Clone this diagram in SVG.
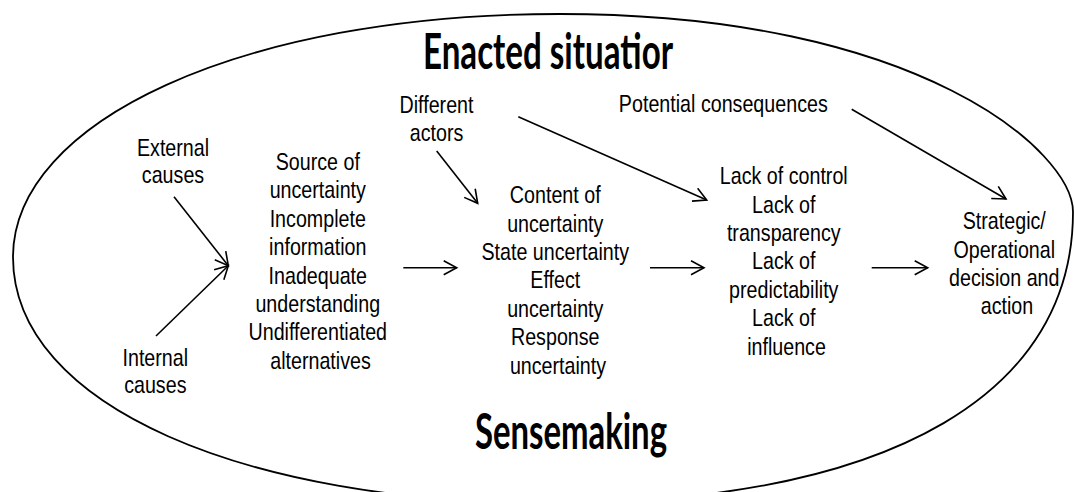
<svg xmlns="http://www.w3.org/2000/svg" width="1074" height="492" viewBox="0 0 1074 492">
  <style>
    .t { font-family: "Liberation Sans", Arial, sans-serif; font-size: 24px; fill: #000; text-anchor: middle; }
    .h { font-family: Lato, "Open Sans", sans-serif; font-weight: bold; font-size: 49px; fill: #000; text-anchor: middle; }
    .c { stroke: #000; stroke-width: 1.6; fill: none; marker-end: url(#arr); }
  </style>
  <defs>
    <marker id="arr" markerUnits="userSpaceOnUse" markerWidth="18" markerHeight="18" refX="15" refY="8" orient="auto">
      <path d="M2,1 L15,8 L2,15" fill="none" stroke="#000" stroke-width="1.6"/>
    </marker>
  </defs>
  <rect width="1074" height="492" fill="#fff"/>
  <g id="outline">
    <path d="M560,14 C920,14 1073,152 1073,212 C1073,387 903,503 548,503 C248,503 13,407 13,257 C13,122 240,14 560,14 Z" fill="none" stroke="#000" stroke-width="1.8"/>
  </g>
  <g id="title-enacted">
    <text class="h" x="548" y="69" textLength="250" lengthAdjust="spacingAndGlyphs">Enacted situatior</text>
  </g>
  <g id="title-sensemaking">
    <text class="h" x="571" y="449" textLength="192" lengthAdjust="spacingAndGlyphs">Sensemaking</text>
  </g>
  <g id="external-causes" transform="translate(173 0) scale(0.82 1)">
    <text class="t"><tspan x="0" y="155.7">External</tspan><tspan x="0" y="183.4">causes</tspan></text>
  </g>
  <g id="internal-causes" transform="translate(155.3 0) scale(0.82 1)">
    <text class="t"><tspan x="0" y="365.7">Internal</tspan><tspan x="0" y="392.7">causes</tspan></text>
  </g>
  <g id="different-actors" transform="translate(436.5 0) scale(0.82 1)">
    <text class="t"><tspan x="0" y="112.7">Different</tspan><tspan x="0" y="140.7">actors</tspan></text>
  </g>
  <g id="source" transform="translate(320.5 0) scale(0.82 1)">
    <text class="t">
      <tspan x="0" y="170">Source of</tspan>
      <tspan x="0" y="198.4">uncertainty</tspan>
      <tspan x="0" y="226.8">Incomplete</tspan>
      <tspan x="0" y="255.2">information</tspan>
      <tspan x="0" y="283.6">Inadequate</tspan>
      <tspan x="0" y="312">understanding</tspan>
      <tspan x="0" y="340.4">Undifferentiated</tspan>
      <tspan x="0" y="368.8">alternatives</tspan>
    </text>
  </g>
  <g id="content" transform="translate(558 0) scale(0.82 1)">
    <text class="t">
      <tspan x="0" y="203.3">Content of</tspan>
      <tspan x="0" y="231.7">uncertainty</tspan>
      <tspan x="0" y="260.1">State uncertainty</tspan>
      <tspan x="0" y="288.5">Effect</tspan>
      <tspan x="0" y="316.9">uncertainty</tspan>
      <tspan x="0" y="345.3">Response</tspan>
      <tspan x="0" y="373.7">uncertainty</tspan>
    </text>
  </g>
  <g id="potential-consequences" transform="translate(723.3 0) scale(0.82 1)">
    <text class="t" x="0" y="112.3">Potential consequences</text>
  </g>
  <g id="lack" transform="translate(786.5 0) scale(0.82 1)">
    <text class="t">
      <tspan x="0" y="184.3">Lack of control</tspan>
      <tspan x="0" y="212.7">Lack of</tspan>
      <tspan x="0" y="241.1">transparency</tspan>
      <tspan x="0" y="269.5">Lack of</tspan>
      <tspan x="0" y="297.9">predictability</tspan>
      <tspan x="0" y="326.3">Lack of</tspan>
      <tspan x="0" y="354.7">influence</tspan>
    </text>
  </g>
  <g id="decision" transform="translate(1007 0) scale(0.82 1)">
    <text class="t">
      <tspan x="0" y="229.3">Strategic/</tspan>
      <tspan x="0" y="257.7">Operational</tspan>
      <tspan x="0" y="286.1">decision and</tspan>
      <tspan x="0" y="314.5">action</tspan>
    </text>
  </g>
  <g id="connectors">
    <line class="c" x1="174" y1="196.7" x2="228.3" y2="265.7"/>
    <line class="c" x1="156" y1="336" x2="228.3" y2="265.7"/>
    <line class="c" x1="403.3" y1="267.7" x2="456.7" y2="267.7"/>
    <line class="c" x1="436.7" y1="151" x2="477.7" y2="203.3"/>
    <line class="c" x1="518.3" y1="116.7" x2="706.7" y2="200"/>
    <line class="c" x1="650" y1="267.7" x2="704" y2="267.7"/>
    <line class="c" x1="871.7" y1="267.7" x2="927.7" y2="267.7"/>
    <line class="c" x1="851.7" y1="109.3" x2="1006" y2="199"/>
  </g>
</svg>
